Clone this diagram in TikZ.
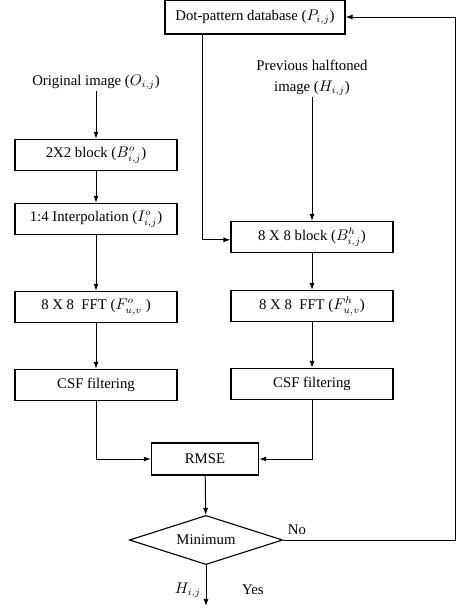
\documentclass[tikz,border=0pt]{standalone}
\usepackage{fontspec}
\setmainfont{Liberation Serif}
\usetikzlibrary{shapes.geometric,arrows.meta}

\begin{document}
\begin{tikzpicture}[x=0.025cm, y=-0.025cm, font=\fontsize{10.5}{12.5}\selectfont,
  blk/.style={draw, line width=0.8pt, minimum width=4.05cm, minimum height=0.78cm, inner sep=1pt},
  dec/.style={draw, diamond, line width=0.8pt, aspect=3, inner sep=0pt, minimum width=3.83cm, minimum height=1.23cm},
  lbl/.style={align=center, inner sep=1pt},
  flow/.style={line width=0.7pt, -{Latex[length=5pt,width=3.6pt]}}]
  \useasboundingbox (0,0) rectangle (460,611);

  % database at the top
  \node[blk, minimum width=4.5cm, minimum height=0.85cm] (db) at (255,17) {Dot-pattern database ($P_{i,j}$)};

  % left column: original image (x = 96)
  \node[lbl] (orig) at (96,82) {Original image ($O_{i,j}$)};
  \node[blk] (blkO) at (96,155) {2X2 block ($B^{o}_{i,j}$)};
  \node[blk] (interp) at (96,219) {1:4 Interpolation ($I^{o}_{i,j}$)};
  \node[blk] (fftO) at (96,307) {8 X 8\ \ FFT ($F^{o}_{u,v}$ )};
  \node[blk] (csfO) at (96,385) {CSF filtering};

  % right column: previous halftoned image (x = 312)
  \node[lbl] (prev) at (312,78) {Previous halftoned\\[2pt] image ($H_{i,j}$)};
  \node[blk] (blkH) at (312,237) {8 X 8 block ($B^{h}_{i,j}$)};
  \node[blk] (fftH) at (312,306) {8 X 8\ \ FFT ($F^{h}_{u,v}$)};
  \node[blk] (csfH) at (312,384) {CSF filtering};

  % comparison and decision
  \node[blk, minimum width=2.68cm, minimum height=0.8cm] (rmse) at (205,459) {RMSE};
  \node[dec] (minm) at (206,540) {Minimum};
  \coordinate (out) at (206,606);
  \coordinate (back) at (455,540);

  % connections
  \draw[flow] (orig) -- (blkO);
  \draw[flow] (blkO) -- (interp);
  \draw[flow] (interp) -- (fftO);
  \draw[flow] (fftO) -- (csfO);
  \draw[flow] (prev) -- (blkH);
  \draw[flow] (blkH) -- (fftH);
  \draw[flow] (fftH) -- (csfH);
  \draw[flow] ([xshift=-1.3cm]db.south) |- ([yshift=-2pt]blkH.west);
  \draw[flow] (csfO) |- (rmse);
  \draw[flow] (csfH) |- (rmse);
  \draw[flow] (rmse) -- (minm);
  \draw[flow] (minm) -- node[left, pos=0.62]{$H_{i,j}$} node[right=22pt, pos=0.6]{Yes} (out);
  \draw[flow] (minm.east) -- node[above, pos=0.08]{No} (back) |- (db.east);
\end{tikzpicture}
\end{document}
